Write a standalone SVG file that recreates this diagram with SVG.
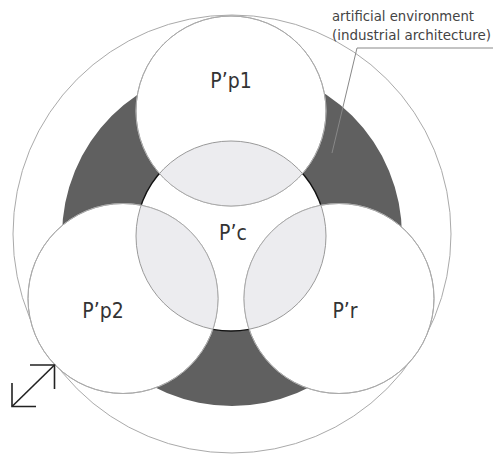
<svg xmlns="http://www.w3.org/2000/svg" width="493" height="454" viewBox="0 0 493 454">
<style>
.c{fill:#fff;stroke:#aaa;stroke-width:1}
.lbl{font-family:"DejaVu Sans","Liberation Sans",sans-serif;font-stretch:condensed;fill:#333;font-size:21px;text-anchor:middle}
.note{font-family:"DejaVu Sans","Liberation Sans",sans-serif;font-stretch:condensed;fill:#444;font-size:14px}
.ln{fill:none;stroke:#888;stroke-width:1}
.ar{fill:none;stroke:#222;stroke-width:1.6}
</style>
<defs>
<clipPath id="pp">
<circle cx="231" cy="111" r="95"/>
<circle cx="123" cy="298.5" r="95"/>
<circle cx="339" cy="298.5" r="95"/>
</clipPath>
</defs>
<rect width="493" height="454" fill="#fff"/>
<g id="environment">
<circle cx="232" cy="234" r="219" fill="none" stroke="#aaa" stroke-width="1"/>
<path d="M62 236a170 170 0 1 0 340 0a170 170 0 1 0 -340 0ZM136 236a95 95 0 1 1 190 0a95 95 0 1 1 -190 0Z" fill="#606060" fill-rule="evenodd"/>
<circle cx="231" cy="236" r="95" fill="#fff" stroke="#111" stroke-width="1.4"/>
</g>
<g id="Pp1"><circle class="c" cx="231" cy="111" r="95"/></g>
<g id="Pp2"><circle class="c" cx="123" cy="298.5" r="95"/></g>
<g id="Pr"><circle class="c" cx="339" cy="298.5" r="95"/></g>
<g id="Pc">
<circle cx="231" cy="236" r="95" fill="#ececef" stroke="#999" stroke-width="1" clip-path="url(#pp)"/>
<circle cx="231" cy="111" r="95" fill="none" stroke="#aaa" stroke-width="1"/>
<circle cx="123" cy="298.5" r="95" fill="none" stroke="#aaa" stroke-width="1"/>
<circle cx="339" cy="298.5" r="95" fill="none" stroke="#aaa" stroke-width="1"/>
</g>
<g id="labels">
<text class="lbl" x="231" y="88">P’p1</text>
<text class="lbl" x="233" y="240">P’c</text>
<text class="lbl" x="103" y="318">P’p2</text>
<text class="lbl" x="345" y="318">P’r</text>
<text class="note" x="332" y="21" textLength="142" lengthAdjust="spacingAndGlyphs">artificial environment</text>
<text class="note" x="332" y="40" textLength="159" lengthAdjust="spacingAndGlyphs">(industrial architecture)</text>
</g>
<g id="connectors">
<polyline class="ln" points="493,48 357,48 332,153"/>
<line class="ar" x1="12" y1="406.5" x2="54.5" y2="365"/>
<polyline class="ar" points="12,383 12,406.5 36,406.5"/>
<polyline class="ar" points="30,365 54.5,365 54.5,389"/>
</g>
</svg>
